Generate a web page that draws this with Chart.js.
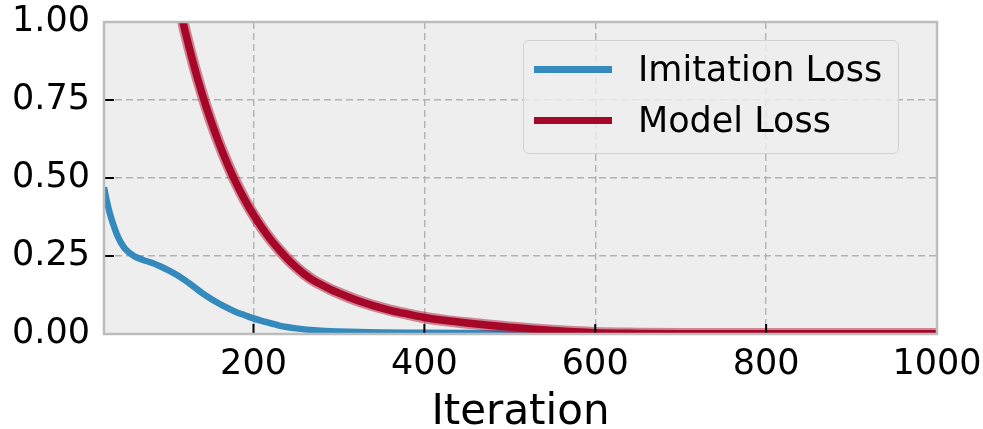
<!DOCTYPE html>
<html>
<head>
<meta charset="utf-8">
<script src="https://cdn.jsdelivr.net/npm/chart.js@4"></script>
<style>
    html, body { margin: 0; padding: 0; background: #ffffff; }
    #wrap { position: relative; width: 983px; height: 429px; }
    #legend {
        position: absolute; left: 523px; top: 40px; width: 374px; height: 112px;
        background: rgba(238, 238, 238, 0.8); border: 1px solid #d2d2d2; border-radius: 6px;
        font-family: "DejaVu Sans", sans-serif; font-size: 35px; color: #000;
    }
    .row { position: absolute; left: 0; height: 40px; display: flex; align-items: center; }
    .swatch { width: 78px; height: 7px; margin-left: 10px; margin-right: 26px; }
</style>
</head>
<body>
<div id="wrap">
    <canvas id="lossChart" width="983" height="429"></canvas>
    <div id="legend">
        <div class="row" style="top: 8px;"><span class="swatch" style="background:#348ABD"></span>Imitation Loss</div>
        <div class="row" style="top: 59px;"><span class="swatch" style="background:#A60628"></span>Model Loss</div>
    </div>
</div>
<script>
const imitationIters = [25, 28, 32, 36, 40, 45, 50, 60, 70, 80, 90, 100, 110, 120, 130, 140, 150, 160, 170, 180, 190, 200, 215, 230, 250, 275, 300, 350, 400, 450, 500, 600, 700, 800, 900, 1000];
const imitationLoss = [0.47, 0.43, 0.385, 0.35, 0.32, 0.292, 0.272, 0.25, 0.238, 0.229, 0.218, 0.205, 0.19, 0.172, 0.152, 0.131, 0.113, 0.097, 0.083, 0.07, 0.06, 0.05, 0.038, 0.027, 0.018, 0.011, 0.008, 0.005, 0.004, 0.003, 0.002, 0.001, 0.001, 0.001, 0.001, 0.001];

const modelIters = [25, 50, 75, 100, 110, 120, 130, 140, 150, 160, 170, 180, 190, 200, 210, 220, 230, 240, 250, 260, 270, 280, 290, 300, 320, 340, 360, 380, 400, 425, 450, 475, 500, 525, 550, 575, 600, 650, 700, 800, 900, 1000];
const modelLoss = [2.7, 2.1, 1.6, 1.22, 1.09, 0.97, 0.863, 0.768, 0.684, 0.609, 0.542, 0.482, 0.429, 0.382, 0.34, 0.303, 0.27, 0.24, 0.214, 0.191, 0.172, 0.157, 0.143, 0.131, 0.109, 0.091, 0.076, 0.064, 0.053, 0.043, 0.035, 0.028, 0.022, 0.016, 0.011, 0.007, 0.004, 0.002, 0.001, 0.001, 0.001, 0.001];

const xTicks = [200, 400, 600, 800, 1000];
const yTicks = [0, 0.25, 0.5, 0.75, 1];

const toPoints = (xs, ys) => xs.map((x, i) => ({ x: x, y: ys[i] }));

// plot background, frame and inward tick marks (matplotlib bmh look)
const framePlugin = {
    id: "frame",
    beforeDraw(chart) {
        const a = chart.chartArea;
        const ctx = chart.ctx;
        ctx.save();
        ctx.fillStyle = "#eeeeee";
        ctx.fillRect(a.left, a.top, a.right - a.left, a.bottom - a.top);
        ctx.restore();
    },
    afterDraw(chart) {
        const a = chart.chartArea;
        const ctx = chart.ctx;
        const xs = chart.scales.x;
        const ys = chart.scales.y;
        ctx.save();
        ctx.strokeStyle = "#000000";
        ctx.lineWidth = 2;
        xTicks.forEach(v => {
            const px = xs.getPixelForValue(v);
            ctx.beginPath();
            ctx.moveTo(px, a.bottom);
            ctx.lineTo(px, a.bottom - 10);
            ctx.stroke();
        });
        yTicks.forEach(v => {
            const py = ys.getPixelForValue(v);
            ctx.beginPath();
            ctx.moveTo(a.left, py);
            ctx.lineTo(a.left + 10, py);
            ctx.stroke();
        });
        ctx.strokeStyle = "#bcbcbc";
        ctx.lineWidth = 2.5;
        ctx.strokeRect(a.left, a.top, a.right - a.left, a.bottom - a.top);
        ctx.restore();
    }
};

new Chart(document.getElementById("lossChart"), {
    type: "line",
    data: {
        datasets: [
            {
                label: "Model Loss",
                data: toPoints(modelIters, modelLoss),
                borderColor: "#A60628",
                borderWidth: 7.5,
                order: 0
            },
            {
                label: "Model Loss band",
                data: toPoints(modelIters, modelLoss),
                borderColor: "rgba(166, 6, 40, 0.45)",
                borderWidth: 11.5,
                order: 1
            },
            {
                label: "Imitation Loss",
                data: toPoints(imitationIters, imitationLoss),
                borderColor: "#348ABD",
                borderWidth: 6.5,
                order: 2
            }
        ]
    },
    options: {
        responsive: false,
        animation: false,
        clip: 0,
        layout: { padding: { top: 22, right: 46, left: 0, bottom: 0 } },
        elements: {
            point: { radius: 0 },
            line: { cubicInterpolationMode: "monotone", fill: false }
        },
        plugins: {
            legend: { display: false },
            tooltip: { enabled: false }
        },
        scales: {
            x: {
                type: "linear",
                min: 25,
                max: 1000,
                afterBuildTicks: scale => { scale.ticks = xTicks.map(v => ({ value: v })); },
                afterFit: scale => {
                    scale.height = 95;
                    scale.paddingLeft = 0;
                    scale.paddingRight = 0;
                },
                grid: { color: "#b2b2b2", lineWidth: 1.4, drawTicks: false },
                border: { display: false, dash: [7, 4] },
                ticks: {
                    color: "#000000",
                    padding: 10,
                    maxRotation: 0,
                    font: { family: "DejaVu Sans", size: 35 },
                    callback: v => String(v)
                },
                title: {
                    display: true,
                    text: "Iteration",
                    color: "#000000",
                    padding: 0,
                    font: { family: "DejaVu Sans", size: 42, lineHeight: 0.75 }
                }
            },
            y: {
                min: 0,
                max: 1,
                afterBuildTicks: scale => { scale.ticks = yTicks.map(v => ({ value: v })); },
                afterFit: scale => {
                    scale.width = 104;
                    scale.paddingTop = 0;
                    scale.paddingBottom = 0;
                },
                grid: { color: "#b2b2b2", lineWidth: 1.4, drawTicks: false },
                border: { display: false, dash: [7, 4] },
                ticks: {
                    color: "#000000",
                    padding: 14,
                    font: { family: "DejaVu Sans", size: 35 },
                    callback: v => Number(v).toFixed(2)
                }
            }
        }
    },
    plugins: [framePlugin]
});
</script>
</body>
</html>
